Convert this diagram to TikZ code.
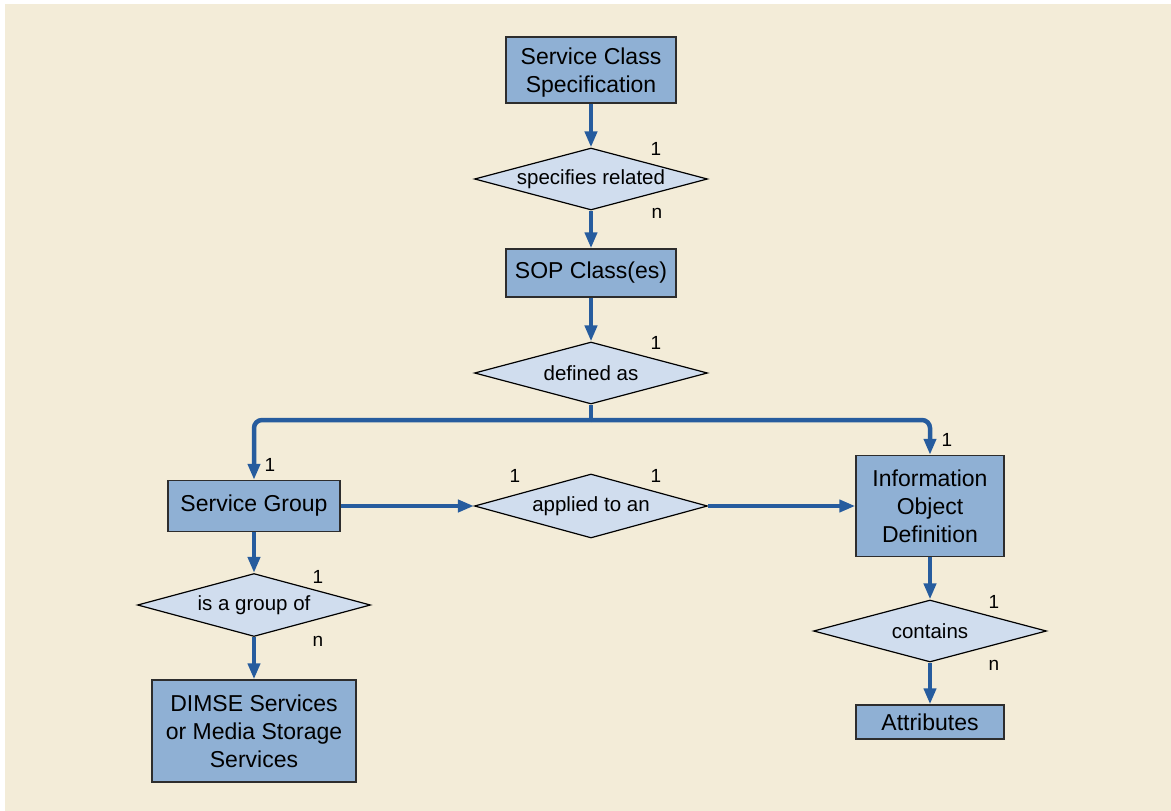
\documentclass[tikz,border=0pt]{standalone}
\usepackage{fontspec}
\setmainfont{Liberation Sans}
\usetikzlibrary{shapes.geometric,arrows.meta,calc}

\definecolor{paper}{RGB}{243,236,216}
\definecolor{boxfill}{RGB}{143,176,212}
\definecolor{relfill}{RGB}{208,221,238}
\definecolor{flow}{RGB}{38,92,158}
\definecolor{edge}{RGB}{45,45,45}

\begin{document}
\begin{tikzpicture}[x=1pt,y=-1pt,
  entity/.style={draw=edge, line width=1.4pt, fill=boxfill, inner sep=0pt,
    align=center, font=\fontsize{23}{28}\selectfont},
  relation/.style={diamond, aspect=3.76, draw=black, line width=1.2pt, fill=relfill,
    inner sep=0pt, minimum width=233pt, minimum height=62pt,
    font=\fontsize{20.5}{24}\selectfont},
  card/.style={font=\fontsize{19}{22}\selectfont, inner sep=0pt},
  flowline/.style={draw=flow, line width=4.5pt},
  conn/.style={flowline, -{Triangle[length=16pt,width=12pt]}},
]
% page and backdrop
\useasboundingbox (0,0) rectangle (1171,811);
\fill[white] (0,0) rectangle (1171,811);
\fill[paper] (5,4) rectangle (1171,811);

% entities
\node[entity, minimum width=170pt, minimum height=66pt] (scs) at (591,70) {};
\node[font=\fontsize{23}{28}\selectfont, align=center, inner sep=0pt] (scstext)
  at ([yshift=-3pt]scs.center) {Service Class\\Specification};
\node[entity, minimum width=170pt, minimum height=48pt] (sop) at (591,273)
  {SOP Class(es)};
\node[entity, minimum width=172pt, minimum height=51pt] (sg) at (254,506)
  {Service Group};
\node[entity, minimum width=148pt, minimum height=101pt] (iod) at (930,506)
  {Information\\Object\\Definition};
\node[entity, minimum width=204pt, minimum height=102pt] (dimse) at (254,731)
  {DIMSE Services\\or Media Storage\\Services};
\node[entity, minimum width=148pt, minimum height=34pt] (attr) at (930,722)
  {Attributes};

% relations
\node[relation] (spec) at (591,179) {specifies related};
\node[relation] (def) at (591,373) {defined as};
\node[relation, minimum height=64pt] (appl) at (591,506) {applied to an};
\node[relation, minimum height=63pt] (grp) at (254,605) {is a group of};
\node[relation] (cont) at (930,631) {contains};

% cardinalities
\node[card] (c1) at (656,149) {1};
\node[card] (c2) at (657,213) {n};
\node[card] (c3) at (656,343) {1};
\node[card] (c4) at (270,465) {1};
\node[card] (c5) at (947,440) {1};
\node[card] (c6) at (515,476) {1};
\node[card] (c7) at (656,476) {1};
\node[card] (c8) at (318,577) {1};
\node[card] (c9) at (318,641) {n};
\node[card] (c10) at (994,602) {1};
\node[card] (c11) at (994,665) {n};

% connectors
\coordinate (split) at (def.south |- 0,420);
\draw[conn] (scs) -- (spec);
\draw[conn] (spec) -- (sop);
\draw[conn] (sop) -- (def);
\draw[flowline] (def.south) -- (split);
\draw[conn, rounded corners=8pt] (split) -| (sg.north);
\draw[conn, rounded corners=8pt] (split) -| (iod.north);
\draw[conn] (sg) -- (appl);
\draw[conn] (appl) -- (iod);
\draw[conn] (sg) -- (grp);
\draw[conn] (grp) -- (dimse);
\draw[conn] (iod) -- (cont);
\draw[conn] (cont) -- (attr);
\end{tikzpicture}
\end{document}
